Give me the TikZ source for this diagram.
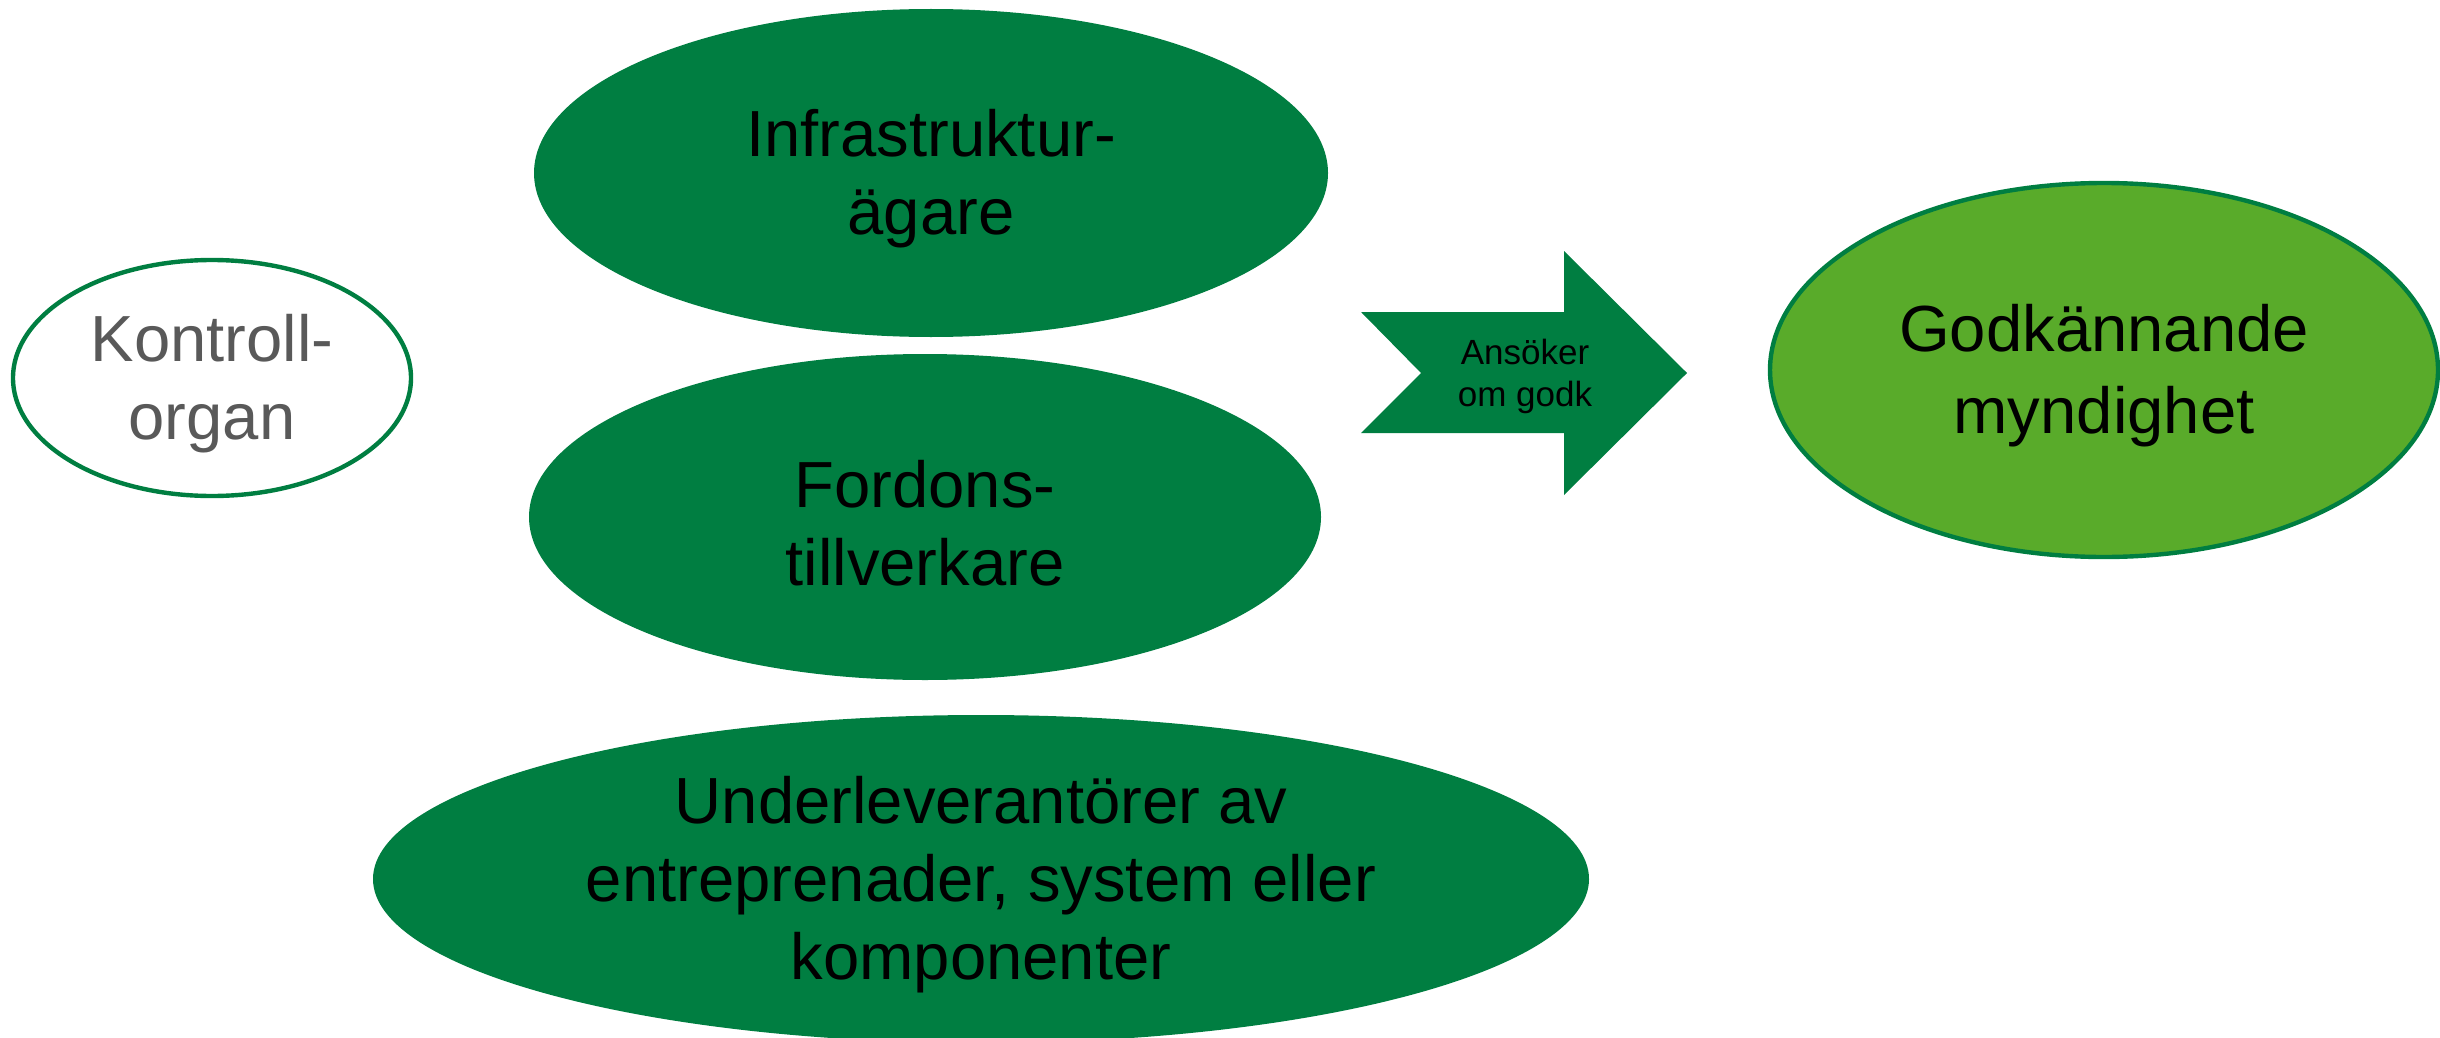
\documentclass[tikz,border=0pt]{standalone}
\usepackage{fontspec}
\setmainfont{Liberation Sans}
\usetikzlibrary{shapes.geometric}
\definecolor{dgreen}{RGB}{0,126,65}
\definecolor{lgreen}{RGB}{89,171,42}
\definecolor{tgray}{RGB}{89,89,89}
\begin{document}
\begin{tikzpicture}[x=0.5pt,y=-0.5pt,
  ell/.style={ellipse, inner sep=0pt},
  darkell/.style={ell, fill=dgreen},
  label/.style={align=center, inner sep=0pt, text=black, yshift=-3pt, font=\fontsize{32.6}{39}\selectfont},
  arrowtext/.style={align=center, inner sep=0pt, text=black, font=\fontsize{17.5}{21}\selectfont}]
\useasboundingbox (0,0) rectangle (2440,1038);
\node[ell, draw=dgreen, line width=2.2pt, fill=white,
      minimum width=199pt, minimum height=118pt] (kontroll) at (212,378) {};
\node[label, text=tgray] (kontrolltext) at (kontroll.center) {Kontroll-\\organ};
\node[darkell, minimum width=397pt, minimum height=164pt] (infra) at (931,173) {};
\node[label] (infratext) at (infra.center) {Infrastruktur-\\ägare};
\node[darkell, minimum width=396pt, minimum height=163pt] (fordon) at (925,517) {};
\node[label] (fordontext) at (fordon.center) {Fordons-\\tillverkare};
\node[darkell, minimum width=608pt, minimum height=164pt] (under) at (981,879) {};
\node[label] (undertext) at (under.center) {Underleverantörer av\\entreprenader, system eller\\komponenter};
\node[ell, draw=dgreen, line width=2.2pt, fill=lgreen,
      minimum width=334pt, minimum height=187pt] (godk) at (2104,370) {};
\node[label, font=\fontsize{32.6}{41}\selectfont] (godktext) at (godk.center) {Godkännande\\myndighet};
\fill[dgreen] (1361,312) -- (1564,312) -- (1564,251) -- (1687,373) -- (1564,495)
  -- (1564,433) -- (1361,433) -- (1421,373) -- cycle;
\node[arrowtext] (ansoker) at (1525,376) {Ansöker\\om godk};
\end{tikzpicture}
\end{document}
